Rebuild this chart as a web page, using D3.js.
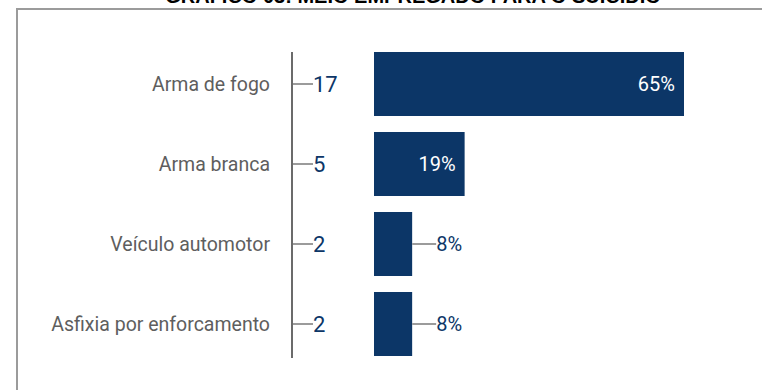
<!DOCTYPE html>
<html>
<head>
<meta charset="utf-8">
<script src="https://cdn.jsdelivr.net/npm/d3@7/dist/d3.min.js"></script>
<style>
  html, body { margin: 0; padding: 0; background: #fff; }
  svg { display: block; }
</style>
</head>
<body>
<svg id="chart" width="762" height="390"></svg>
<script>
// Meio empregado para o suicídio: contagem de casos e participação percentual
const categories = ["Arma de fogo", "Arma branca", "Veículo automotor", "Asfixia por enforcamento"];
const counts = [17, 5, 2, 2];
const percents = [65, 19, 8, 8];
const title = "GRÁFICO 03: MEIO EMPREGADO PARA O SUICÍDIO";

const svg = d3.select("#chart");
const barColor = "#0c3667";
const textBlue = "#0c3667";

// Moldura do gráfico
svg.append("path")
  .attr("d", "M17,420 V9 H800")
  .attr("fill", "none")
  .attr("stroke", "#9b9b9b")
  .attr("stroke-width", 2);

// Título
svg.append("text")
  .attr("x", 413)
  .attr("y", 3)
  .attr("text-anchor", "middle")
  .attr("font-family", "Liberation Sans, Arial, sans-serif")
  .attr("font-weight", "bold")
  .attr("font-size", 20)
  .attr("fill", "#000")
  .text(title);

const y = d3.scaleBand()
  .domain(categories)
  .range([44, 364])
  .paddingInner(0.2)
  .paddingOuter(0.1);

const x = d3.scaleLinear()
  .domain([0, 65])
  .range([374, 684]);

const axisX = 292;

// Eixo vertical
svg.append("line")
  .attr("x1", axisX).attr("x2", axisX)
  .attr("y1", y(categories[0]))
  .attr("y2", y(categories[categories.length - 1]) + y.bandwidth() + 2)
  .attr("stroke", "#6b6b6b")
  .attr("stroke-width", 2);

const rows = categories.map((c, i) => ({ cat: c, count: counts[i], pct: percents[i] }));

const g = svg.append("g").selectAll("g.row").data(rows).join("g").attr("class", "row");

// Rótulos das categorias
g.append("text")
  .attr("x", axisX - 22)
  .attr("y", d => y(d.cat) + y.bandwidth() / 2)
  .attr("dy", "0.35em")
  .attr("text-anchor", "end")
  .attr("font-family", "Roboto, sans-serif")
  .attr("font-size", 19.5)
  .attr("fill", "#5e5e5e")
  .text(d => d.cat);

// Traço de ligação ao número de casos
g.append("line")
  .attr("x1", axisX + 1)
  .attr("x2", axisX + 21)
  .attr("y1", d => y(d.cat) + y.bandwidth() / 2)
  .attr("y2", d => y(d.cat) + y.bandwidth() / 2)
  .attr("stroke", "#9b9b9b")
  .attr("stroke-width", 2);

// Número de casos
g.append("text")
  .attr("x", axisX + 21)
  .attr("y", d => y(d.cat) + y.bandwidth() / 2)
  .attr("dy", "0.35em")
  .attr("font-family", "Roboto, sans-serif")
  .attr("font-size", 22)
  .attr("fill", textBlue)
  .text(d => d.count);

// Barras de percentual
g.append("rect")
  .attr("x", x(0))
  .attr("y", d => y(d.cat))
  .attr("width", d => x(d.pct) - x(0))
  .attr("height", y.bandwidth())
  .attr("fill", barColor);

// Rótulos de percentual: dentro da barra quando há espaço, fora com traço quando não
const inside = d => x(d.pct) - x(0) > 60;

g.filter(d => !inside(d)).append("line")
  .attr("x1", d => x(d.pct))
  .attr("x2", d => x(d.pct) + 24)
  .attr("y1", d => y(d.cat) + y.bandwidth() / 2)
  .attr("y2", d => y(d.cat) + y.bandwidth() / 2)
  .attr("stroke", "#9b9b9b")
  .attr("stroke-width", 2);

g.append("text")
  .attr("x", d => inside(d) ? x(d.pct) - 9 : x(d.pct) + 24)
  .attr("y", d => y(d.cat) + y.bandwidth() / 2)
  .attr("dy", "0.35em")
  .attr("text-anchor", d => inside(d) ? "end" : "start")
  .attr("font-family", "Roboto, sans-serif")
  .attr("font-size", 20)
  .attr("fill", d => inside(d) ? "#ffffff" : textBlue)
  .text(d => d.pct + "%");
</script>
</body>
</html>
